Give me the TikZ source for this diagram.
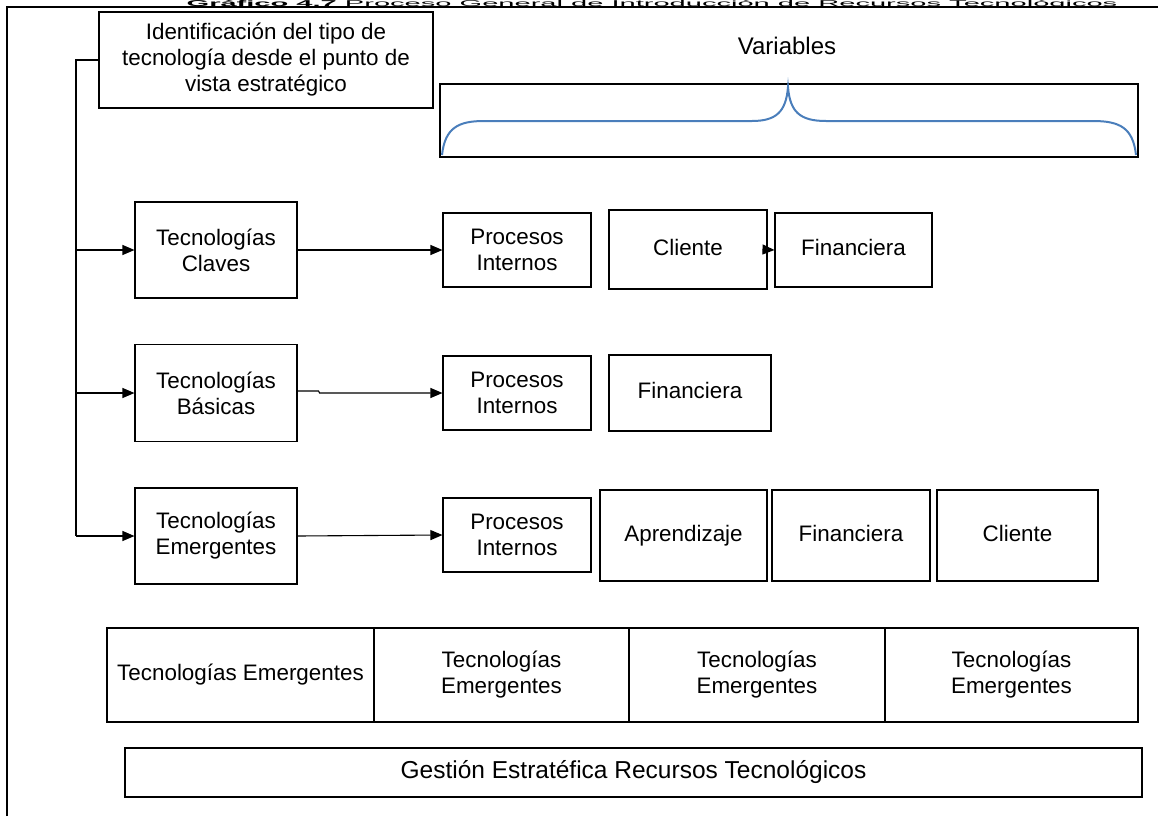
\documentclass[tikz,border=0pt]{standalone}
\usepackage{fontspec}
\usepackage{graphicx}
\setmainfont{Liberation Sans}
\usetikzlibrary{arrows.meta}
\definecolor{bracecol}{RGB}{74,126,187}
\begin{document}
\begin{tikzpicture}[x=1pt,y=-1pt,
  bx/.style={draw=black, line width=1.1pt, align=center, inner sep=0pt,
             font=\fontsize{22.4}{26}\selectfont},
  one/.style={text height=16pt, text depth=5pt},
  sz/.style 2 args={minimum width=#1, minimum height=#2},
  ln/.style={line width=1.1pt},
  arr/.style={line width=1.1pt, -{Triangle[length=12pt,width=10pt]}},
  frame/.style={line width=2.2pt},
  bracestyle/.style={draw=bracecol, line width=2pt}]
\useasboundingbox (0,0) rectangle (1158,816);

% title strip at the very top (only a sliver of it shows in the reference)
\node[anchor=base, inner sep=0pt, font=\fontsize{8.5}{10}\selectfont] (title) at (652,6.3)
  {\scalebox{3.42}[1]{\textbf{Gráfico 4.7} Proceso General de Introducción de Recursos Tecnológicos}};

% outer frame
\coordinate (fBL) at (7,816);
\coordinate (fTL) at (7,7);
\coordinate (fTR) at (1158,7);
\draw[frame] (fBL) -- (fTL) -- (fTR);

% top box
\node[bx, sz={334pt}{96pt}] (id) at (266,60)
  {Identificación del tipo de\\tecnología desde el punto de\\vista estratégico};

% variables
\node[font=\fontsize{24}{28}\selectfont, inner sep=0pt] (varlbl) at (787,46) {Variables};
\node[draw=black, line width=1.6pt, sz={698pt}{73pt}, inner sep=0pt] (varbox) at (789,120.5) {};
\draw[bracestyle] (442,155) .. controls (445,128) and (458,121) .. (484,121)
  -- (752,121) .. controls (776,121) and (786,112) .. (788,87)
  .. controls (790,112) and (800,121) .. (826,121)
  -- (1093,121) .. controls (1120,121) and (1133,128) .. (1136,155);

% technology boxes
\node[bx, sz={162pt}{96pt}] (claves) at (216,250) {Tecnologías\\Claves};
\node[bx, sz={162pt}{97pt}] (basicas) at (216,393) {Tecnologías\\Básicas};
\node[bx, sz={162pt}{96pt}] (emerg) at (216,536) {Tecnologías\\Emergentes};

% row 1
\node[bx, sz={148pt}{74pt}] (pi1) at (517,250) {Procesos\\Internos};
\node[bx, one, sz={158pt}{79pt}] (cli1) at (688,249.5) {Cliente};
\node[bx, one, sz={157pt}{74pt}] (fin1) at (853.5,250) {Financiera};

% row 2
\node[bx, sz={148pt}{74pt}] (pi2) at (517,393) {Procesos\\Internos};
\node[bx, one, sz={162pt}{76pt}] (fin2) at (690,393) {Financiera};

% row 3
\node[bx, sz={148pt}{74pt}] (pi3) at (517,535) {Procesos\\Internos};
\node[bx, one, sz={167pt}{91pt}] (apr) at (683.5,535.5) {Aprendizaje};
\node[bx, one, sz={158pt}{91pt}] (fin3) at (851,535.5) {Financiera};
\node[bx, one, sz={161pt}{91pt}] (cli3) at (1017.5,535.5) {Cliente};

% bottom row
\node[bx, one, sz={267pt}{94pt}] (b1) at (240.5,675) {Tecnologías Emergentes};
\node[bx, sz={255pt}{94pt}] (b2) at (501.5,675) {Tecnologías\\Emergentes};
\node[bx, sz={256pt}{94pt}] (b3) at (757,675) {Tecnologías\\Emergentes};
\node[bx, sz={253pt}{94pt}] (b4) at (1011.5,675) {Tecnologías\\Emergentes};

\node[bx, one, sz={1017pt}{49pt}, font=\fontsize{24.5}{28}\selectfont] (gest) at (633.5,772.5)
  {Gestión Estratéfica Recursos Tecnológicos};

% trunk and branches
\coordinate (tTop) at (76,60);
\coordinate (tBot) at (76,536);
\draw[ln] (id.west) -- (tTop) -- (tBot);
\draw[arr] (claves.west -| tTop) -- (claves.west);
\draw[arr] (basicas.west -| tTop) -- (basicas.west);
\draw[arr] (emerg.west -| tTop) -- (emerg.west);

% row connectors
\draw[arr] (claves.east) -- (pi1.west);
\draw[arr] ([yshift=2pt]basicas.east) -- ++(21,0) -- ++(1,2) -- (pi2.west);
\draw[arr] (emerg.east) -- (pi3.west);
\draw[arr] ([xshift=-5pt]cli1.east) -- (fin1.west);
\end{tikzpicture}
\end{document}
